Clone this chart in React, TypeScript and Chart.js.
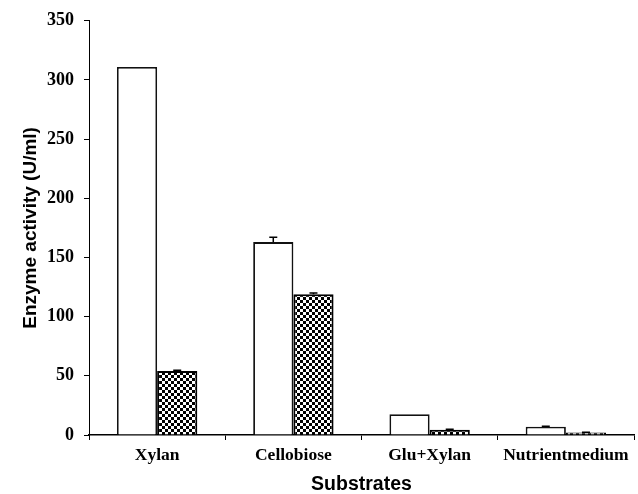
import React, { useEffect, useRef } from "react";
import { Chart, registerables } from "chart.js";

Chart.register(...registerables);

const categories = ["Xylan", "Cellobiose", "Glu+Xylan", "Nutrientmedium"];
const seriesA = [311, 163, 17.5, 7];
const seriesB = [54, 119, 4.5, 2.2];
const errorsA = [0, 4, 0, 0.4];
const errorsB = [0.8, 1, 0.3, 0.2];
const yTicks = [0, 50, 100, 150, 200, 250, 300, 350];

function makeChecker(ctx: CanvasRenderingContext2D): CanvasPattern | string {
  const c = document.createElement("canvas");
  const cell = 3;
  c.width = cell * 2;
  c.height = cell * 2;
  const g = c.getContext("2d");
  if (!g) return "#000";
  g.fillStyle = "#fff";
  g.fillRect(0, 0, c.width, c.height);
  g.fillStyle = "#000";
  g.fillRect(0, 0, cell, cell);
  g.fillRect(cell, cell, cell, cell);
  return ctx.createPattern(c, "repeat") || "#000";
}

const errorBarPlugin = {
  id: "errorBars",
  afterDatasetsDraw(chart: any) {
    const ctx = chart.ctx;
    const y = chart.scales.y;
    const errs = [errorsA, errorsB];
    const vals = [seriesA, seriesB];
    ctx.save();
    ctx.strokeStyle = "#000";
    ctx.lineWidth = 1.5;
    chart.data.datasets.forEach((ds: any, di: number) => {
      const meta = chart.getDatasetMeta(di);
      meta.data.forEach((bar: any, i: number) => {
        const v = vals[di][i];
        const e = errs[di][i];
        if (!e) return;
        const y0 = y.getPixelForValue(v);
        const y1 = y.getPixelForValue(v + e);
        ctx.beginPath();
        ctx.moveTo(bar.x, y0);
        ctx.lineTo(bar.x, y1);
        ctx.moveTo(bar.x - 4, y1);
        ctx.lineTo(bar.x + 4, y1);
        ctx.stroke();
      });
    });
    ctx.restore();
  },
};

export default function App() {
  const ref = useRef<HTMLCanvasElement>(null);
  useEffect(() => {
    const canvas = ref.current;
    if (!canvas) return;
    const ctx = canvas.getContext("2d");
    if (!ctx) return;
    const pattern = makeChecker(ctx);
    const chart = new Chart(canvas, {
      type: "bar",
      data: {
        labels: categories,
        datasets: [
          {
            label: "A",
            data: seriesA,
            backgroundColor: "#fff",
            borderColor: "#111",
            borderWidth: 1.8,
          },
          {
            label: "B",
            data: seriesB,
            backgroundColor: pattern as any,
            borderColor: "#000",
            borderWidth: 2,
          },
        ],
      },
      options: {
        responsive: false,
        animation: false,
        categoryPercentage: 0.59,
        barPercentage: 1,
        layout: { padding: { left: 0, right: 4, top: 18, bottom: 0 } },
        plugins: {
          legend: { display: false },
          tooltip: { enabled: false },
        },
        scales: {
          x: {
            grid: {
              display: true,
              offset: true,
              drawOnChartArea: false,
              drawTicks: true,
              tickLength: 5,
              color: "#000",
              lineWidth: 1,
            },
            border: { display: true, color: "#000", width: 1.5 },
            ticks: {
              color: "#000",
              padding: 5,
              font: { family: "'Liberation Serif', serif", size: 17.5, weight: "bold" },
            },
            title: {
              display: true,
              text: "Substrates",
              color: "#000",
              padding: { top: 0, bottom: 0 },
              font: { family: "'Liberation Sans', Arial, sans-serif", size: 19.5, weight: "bold", lineHeight: 1 },
            },
            afterFit: (s: any) => {
              s.height = 59;
            },
          },
          y: {
            min: 0,
            max: 350,
            afterBuildTicks: (s: any) => {
              s.ticks = yTicks.map((v) => ({ value: v }));
            },
            grid: {
              display: true,
              drawOnChartArea: false,
              drawTicks: true,
              tickLength: 5,
              color: "#000",
              lineWidth: 1,
            },
            border: { display: true, color: "#000", width: 1 },
            ticks: {
              color: "#000",
              padding: 10,
              font: { family: "'Liberation Serif', serif", size: 18, weight: "bold" },
            },
            title: {
              display: true,
              text: "Enzyme activity (U/ml)",
              color: "#000",
              padding: { top: 21, bottom: 0 },
              font: { family: "'Liberation Sans', Arial, sans-serif", size: 19, weight: "bold", lineHeight: 1 },
            },
            afterFit: (s: any) => {
              s.width = 89;
            },
          },
        },
      },
      plugins: [errorBarPlugin],
    });
    return () => chart.destroy();
  }, []);
  return (
    <div style={{ position: "absolute", left: 0, top: 0, width: 638, height: 494, background: "#fff" }}>
      <canvas ref={ref} width={638} height={494} />
    </div>
  );
}
